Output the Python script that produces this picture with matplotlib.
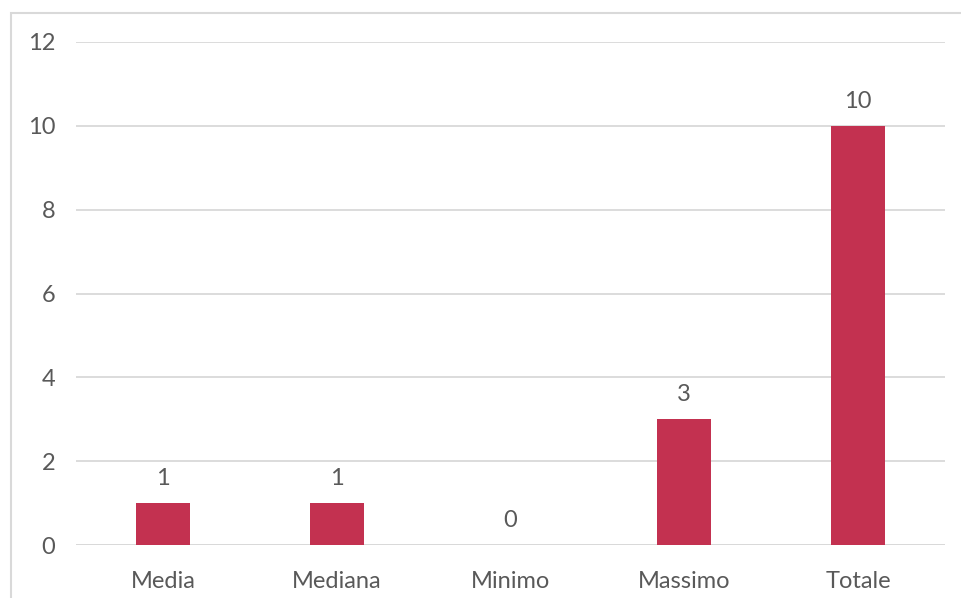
import matplotlib
matplotlib.use("Agg")
import matplotlib.pyplot as plt
from matplotlib.patches import Rectangle

categories = ["Media", "Mediana", "Minimo", "Massimo", "Totale"]
values = [1, 1, 0, 3, 10]
yticks = [0, 2, 4, 6, 8, 10, 12]

plt.rcParams['font.family'] = ['Lato', 'DejaVu Sans']
text_color = "#595959"
bar_color = "#C33150"
grid_color = "#D9D9D9"
fs = 17

W, H = 961, 598
fig = plt.figure(figsize=(W/100, H/100), dpi=100)
ax = fig.add_axes([76/W, 1-545/H, (945-76)/W, (545-42)/H])

x = list(range(len(categories)))
ax.bar(x, values, width=0.31, color=bar_color, zorder=3)
for xi, v in zip(x, values):
    ax.text(xi, v + 0.33, str(v), ha="center", va="bottom", fontsize=fs, color=text_color)

ax.set_xlim(-0.5, len(categories) - 0.5)
ax.set_ylim(0, 12)
ax.set_yticks(yticks)
ax.set_yticklabels([str(t) for t in yticks])
ax.set_xticks(x)
ax.set_xticklabels(categories)
ax.tick_params(axis="both", length=0, labelsize=fs, labelcolor=text_color)
ax.tick_params(axis="y", pad=15)
ax.tick_params(axis="x", pad=19)
ax.yaxis.grid(True, color=grid_color, linewidth=1.3, zorder=0)
for s in ax.spines.values():
    s.set_visible(False)
ax.axhline(0, color=grid_color, linewidth=1.3, zorder=2)

fig.patches.append(Rectangle((11/W, -0.1), 1.2, (1-13/H)+0.1, transform=fig.transFigure,
                             fill=False, edgecolor="#D9D9D9", linewidth=1.5, zorder=0))

fig.savefig("out.png", dpi=100)
